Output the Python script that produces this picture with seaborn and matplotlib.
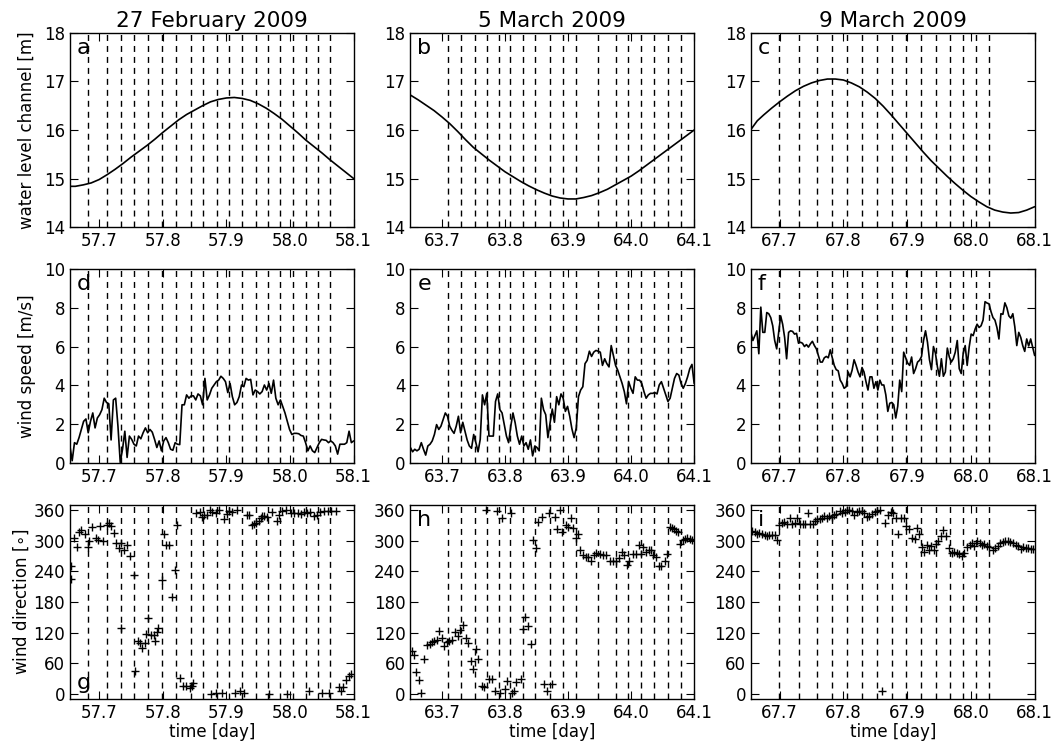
import numpy as np
import pandas as pd
import matplotlib
matplotlib.use("Agg")
import matplotlib.pyplot as plt
import seaborn as sns

# ---------------- data ----------------
titles = ["27 February 2009", "5 March 2009", "9 March 2009"]
xlims = [(57.654, 58.1), (63.65, 64.1), (67.655, 68.1)]
xticks = [[57.7, 57.8, 57.9, 58.0, 58.1],
          [63.7, 63.8, 63.9, 64.0, 64.1],
          [67.7, 67.8, 67.9, 68.0, 68.1]]
letters = ["a", "b", "c", "d", "e", "f", "g", "h", "i"]

# vertical dashed markers (times)
vlines_1 = [57.682, 57.712, 57.734, 57.755, 57.776, 57.798, 57.821, 57.845, 57.864,
            57.885, 57.904, 57.925, 57.946, 57.965, 57.985, 58.005, 58.025, 58.044, 58.063]
vlines_2 = [63.709, 63.731, 63.752, 63.771, 63.791, 63.808, 63.829, 63.848, 63.871,
            63.892, 63.913, 63.947, 63.976, 63.995, 64.016, 64.037, 64.058, 64.079]
vlines_3 = [67.699, 67.731, 67.758, 67.782, 67.806, 67.829, 67.853, 67.876, 67.899,
            67.922, 67.945, 67.967, 67.988, 68.008, 68.028]

# water level channel [m]
wl_t1 = [57.654, 57.6625, 57.675, 57.6875, 57.70, 57.7125, 57.725, 57.7375, 57.75, 57.7625,
         57.775, 57.7875, 57.80, 57.8125, 57.825, 57.8375, 57.85, 57.8625, 57.875, 57.8875,
         57.90, 57.9125, 57.925, 57.9375, 57.95, 57.9625, 57.975, 57.9875, 58.00, 58.0125,
         58.025, 58.0375, 58.05, 58.0625, 58.075, 58.0875, 58.10]
wl_1 = [14.84, 14.84, 14.87, 14.91, 14.98, 15.08, 15.19, 15.31, 15.44, 15.56,
        15.68, 15.81, 15.95, 16.08, 16.21, 16.32, 16.41, 16.50, 16.58, 16.63,
        16.66, 16.67, 16.65, 16.61, 16.54, 16.45, 16.34, 16.22, 16.08, 15.94,
        15.79, 15.66, 15.53, 15.39, 15.26, 15.13, 15.00]
wl_t2 = [63.65, 63.6625, 63.675, 63.6875, 63.70, 63.7125, 63.725, 63.7375, 63.75, 63.7625,
         63.775, 63.7875, 63.80, 63.8125, 63.825, 63.8375, 63.85, 63.8625, 63.875, 63.8875,
         63.90, 63.9125, 63.925, 63.9375, 63.95, 63.9625, 63.975, 63.9875, 64.00, 64.0125,
         64.025, 64.0375, 64.05, 64.0625, 64.075, 64.0875, 64.10]
wl_2 = [16.72, 16.62, 16.51, 16.40, 16.27, 16.13, 15.97, 15.80, 15.64, 15.51,
        15.38, 15.26, 15.14, 15.04, 14.94, 14.85, 14.77, 14.70, 14.64, 14.60,
        14.58, 14.58, 14.61, 14.65, 14.71, 14.78, 14.87, 14.96, 15.05, 15.16,
        15.28, 15.40, 15.52, 15.64, 15.76, 15.88, 16.00]
wl_t3 = [67.655, 67.665, 67.675, 67.6875, 67.70, 67.7125, 67.725, 67.7375, 67.75, 67.7625,
         67.775, 67.7875, 67.80, 67.8125, 67.825, 67.8375, 67.85, 67.8625, 67.875, 67.8875,
         67.90, 67.9125, 67.925, 67.9375, 67.95, 67.9625, 67.975, 67.9875, 68.00, 68.0125,
         68.025, 68.0375, 68.05, 68.0625, 68.075, 68.0875, 68.10]
wl_3 = [16.01, 16.19, 16.31, 16.45, 16.58, 16.70, 16.81, 16.90, 16.97, 17.02,
        17.05, 17.05, 17.03, 16.97, 16.89, 16.78, 16.65, 16.49, 16.31, 16.12,
        15.93, 15.74, 15.55, 15.37, 15.21, 15.05, 14.90, 14.76, 14.63, 14.52,
        14.42, 14.35, 14.31, 14.29, 14.30, 14.35, 14.42]

# wind speed [m/s], regularly sampled between the panel limits
ws_1 = [0.88, 0.12, 1.05, 0.97, 1.31, 1.73, 2.15, 2.27, 1.56, 2.15, 2.58, 1.81, 2.32, 2.49,
        2.75, 3.34, 3.12, 3.05, 1.19, 3.25, 3.34, 1.90, 0.03, 0.71, 1.64, 0.29, 1.39, 1.22,
        0.97, 0.88, 1.39, 1.25, 1.56, 1.81, 1.56, 1.73, 1.59, 1.22, 0.80, 1.14, 0.63, 1.14,
        1.31, 1.05, 0.71, 0.66, 1.05, 0.97, 0.95, 3.00, 3.00, 3.51, 3.34, 3.46, 3.46, 3.25,
        3.56, 3.46, 3.00, 4.36, 3.25, 3.51, 3.85, 4.02, 4.19, 4.27, 4.47, 4.36, 4.19, 3.63,
        4.10, 3.42, 3.00, 3.12, 3.42, 4.02, 3.93, 4.36, 4.27, 4.31, 3.51, 3.76, 3.68, 3.56,
        3.68, 4.02, 3.76, 4.10, 3.59, 4.27, 3.34, 3.00, 3.25, 2.92, 2.58, 2.15, 1.73, 1.47,
        1.53, 1.53, 1.51, 1.42, 1.39, 1.05, 0.63, 0.88, 0.63, 0.54, 0.80, 1.05, 1.22, 1.19,
        1.17, 1.05, 1.14, 1.05, 0.88, 0.46, 0.97, 0.97, 0.97, 1.05, 1.64, 1.05, 1.14]
ws_2 = [0.80, 0.58, 0.71, 0.63, 0.71, 1.05, 0.71, 0.41, 0.88, 0.97, 1.14, 1.47, 1.98, 1.73,
        1.90, 2.24, 2.58, 2.41, 1.90, 1.69, 1.53, 1.90, 2.41, 1.56, 2.10, 1.64, 1.19, 0.88,
        0.76, 1.47, 1.05, 0.58, 1.22, 3.51, 3.00, 3.59, 1.39, 1.39, 1.39, 3.17, 3.56, 2.75,
        2.58, 1.98, 1.39, 1.05, 1.90, 2.58, 2.07, 1.39, 0.97, 1.39, 0.88, 1.05, 0.71, 1.19,
        0.37, 0.88, 0.80, 0.63, 3.34, 2.75, 2.49, 1.31, 2.07, 2.78, 2.10, 3.42, 3.00, 3.56,
        3.34, 2.66, 2.92, 2.41, 1.76, 1.31, 1.81, 3.42, 3.76, 3.93, 5.12, 5.29, 5.76, 5.49,
        5.71, 5.80, 5.76, 5.71, 5.03, 5.37, 5.12, 4.95, 6.05, 5.54, 5.03, 4.78, 4.44, 4.10,
        3.68, 3.05, 4.19, 3.85, 3.59, 4.44, 4.27, 4.27, 4.10, 3.68, 3.34, 3.51, 3.59, 3.59,
        3.63, 3.56, 4.02, 4.19, 3.85, 3.51, 3.17, 3.34, 3.85, 4.36, 4.61, 4.53, 4.10, 3.85,
        4.10, 4.44, 4.86, 5.08, 4.10]
ws_3 = [6.73, 6.31, 6.56, 6.81, 5.63, 8.03, 6.73, 6.73, 7.75, 7.69, 7.49, 7.07, 6.31, 5.88,
        6.73, 7.58, 7.15, 6.47, 5.37, 6.73, 6.81, 6.78, 6.64, 6.68, 6.17, 6.22, 6.17, 6.00,
        6.10, 5.97, 6.14, 6.27, 6.05, 5.88, 5.54, 5.20, 5.20, 5.42, 5.49, 5.42, 5.83, 5.42,
        5.03, 4.81, 4.75, 4.27, 4.10, 3.85, 3.93, 4.69, 4.44, 4.78, 5.32, 5.03, 4.69, 4.44,
        4.92, 4.69, 4.19, 3.76, 4.44, 4.44, 3.85, 4.19, 3.76, 4.27, 4.02, 4.02, 3.51, 2.66,
        3.08, 3.12, 3.00, 2.32, 2.92, 4.27, 3.68, 5.71, 5.42, 5.15, 5.03, 5.46, 4.61, 4.86,
        5.20, 5.29, 5.49, 6.31, 6.81, 6.22, 5.32, 4.81, 6.00, 5.66, 4.95, 4.47, 5.37, 4.47,
        4.69, 5.92, 5.46, 5.20, 5.37, 5.71, 6.31, 4.86, 4.61, 5.66, 6.05, 5.03, 5.97, 6.64,
        6.56, 6.90, 7.15, 6.98, 7.07, 7.36, 8.31, 8.24, 8.20, 7.80, 7.49, 7.36, 6.98, 6.39,
        7.69, 7.66, 8.25, 8.00, 7.58, 7.46, 7.69, 7.02, 6.05, 6.73, 6.47, 6.05, 5.75, 6.39,
        6.03, 6.39, 5.97, 5.54]

# wind direction [deg]
wd_t1 = [57.656, 57.655, 57.660, 57.665, 57.668, 57.672, 57.677, 57.682, 57.684, 57.689,
         57.695, 57.698, 57.702, 57.706, 57.713, 57.716, 57.719, 57.723, 57.727, 57.731,
         57.735, 57.739, 57.744, 57.748, 57.754, 57.735, 57.756, 57.761, 57.764, 57.768,
         57.772, 57.776, 57.774, 57.781, 57.786, 57.788, 57.791, 57.793, 57.798, 57.802,
         57.805, 57.809, 57.814, 57.819, 57.822, 57.827, 57.832, 57.837, 57.842, 57.846,
         57.848, 57.853, 57.858, 57.862, 57.865, 57.869, 57.874, 57.877, 57.883, 57.888,
         57.896, 57.901, 57.904, 57.909, 57.917, 57.876, 57.884, 57.893, 57.914, 57.922,
         57.927, 57.932, 57.935, 57.941, 57.943, 57.946, 57.951, 57.954, 57.956, 57.959,
         57.964, 57.971, 57.979, 57.983, 57.988, 57.993, 58.001, 58.006, 58.012, 58.017,
         58.022, 58.027, 58.032, 58.038, 58.043, 58.047, 58.054, 58.059, 58.064, 58.072,
         57.967, 57.996, 58.030, 58.051, 58.062, 58.077, 58.080, 58.084, 58.088, 58.092,
         58.096]
wd_1 = [250, 224, 306, 288, 316, 321, 312, 288, 299, 327,
        306, 301, 329, 299, 331, 335, 329, 314, 295, 286,
        295, 282, 292, 269, 232, 129, 45, 103, 99, 90,
        100, 148, 118, 116, 116, 103, 121, 129, 223, 313,
        292, 292, 190, 242, 330, 32, 16, 15, 11, 15,
        21, 353, 355, 346, 350, 350, 359, 355, 353, 359,
        342, 352, 358, 355, 359, 0, 2, 2, 2, 6,
        2, 350, 350, 331, 332, 335, 339, 345, 348, 348,
        346, 355, 339, 350, 358, 359, 353, 353, 353, 352,
        355, 353, 355, 348, 350, 355, 357, 357, 358, 358,
        0, 0, 6, 2, 2, 13, 6, 13, 28, 35,
        39]
wd_t2 = [63.653, 63.655, 63.659, 63.663, 63.667, 63.671, 63.676, 63.681, 63.684, 63.688,
         63.692, 63.696, 63.700, 63.704, 63.708, 63.712, 63.716, 63.720, 63.725, 63.729,
         63.733, 63.738, 63.742, 63.746, 63.750, 63.754, 63.758, 63.763, 63.767, 63.770,
         63.775, 63.779, 63.784, 63.787, 63.792, 63.796, 63.800, 63.804, 63.809, 63.811,
         63.814, 63.818, 63.825, 63.828, 63.832, 63.837, 63.842, 63.845, 63.849, 63.853,
         63.858, 63.862, 63.866, 63.870, 63.874, 63.879, 63.883, 63.887, 63.891, 63.896,
         63.900, 63.904, 63.908, 63.912, 63.916, 63.919, 63.924, 63.928, 63.932, 63.937,
         63.941, 63.945, 63.950, 63.955, 63.961, 63.967, 63.972, 63.976, 63.981, 63.986,
         63.989, 63.993, 63.997, 64.003, 64.008, 64.012, 64.016, 64.019, 64.024, 64.028,
         64.032, 64.035, 64.039, 64.044, 64.048, 64.053, 64.057, 64.061, 64.065, 64.068,
         64.072, 64.075, 64.077, 64.082, 64.086, 64.089, 64.093, 64.096]
wd_2 = [84, 76, 43, 28, 2, 68, 95, 97, 101, 103,
        105, 123, 110, 94, 101, 103, 105, 121, 114, 126,
        134, 110, 100, 65, 48, 87, 68, 16, 13, 359,
        30, 30, 6, 357, 2, 344, 10, 26, 353, 2,
        6, 23, 29, 127, 150, 132, 97, 301, 286, 337,
        346, 19, 6, 353, 19, 346, 323, 359, 316, 331,
        327, 344, 325, 306, 312, 282, 271, 268, 268, 261,
        271, 275, 273, 271, 271, 261, 261, 260, 265, 277,
        271, 252, 260, 274, 274, 292, 274, 288, 277, 281,
        281, 271, 268, 250, 250, 261, 273, 327, 325, 323,
        319, 316, 294, 301, 303, 305, 303, 301]
wd_t3 = [67.657, 67.661, 67.665, 67.668, 67.673, 67.677, 67.681, 67.684, 67.688, 67.693,
         67.696, 67.699, 67.703, 67.707, 67.711, 67.716, 67.720, 67.724, 67.728, 67.732,
         67.736, 67.740, 67.744, 67.747, 67.752, 67.756, 67.759, 67.763, 67.766, 67.770,
         67.774, 67.778, 67.782, 67.786, 67.789, 67.794, 67.798, 67.802, 67.805, 67.809,
         67.814, 67.817, 67.821, 67.825, 67.829, 67.833, 67.837, 67.841, 67.845, 67.849,
         67.853, 67.857, 67.861, 67.865, 67.870, 67.874, 67.878, 67.882, 67.886, 67.891,
         67.895, 67.899, 67.903, 67.907, 67.912, 67.916, 67.919, 67.923, 67.926, 67.931,
         67.935, 67.938, 67.942, 67.945, 67.949, 67.953, 67.957, 67.961, 67.966, 67.970,
         67.974, 67.978, 67.982, 67.986, 67.989, 67.994, 67.998, 68.002, 68.005, 68.009,
         68.014, 68.017, 68.021, 68.025, 68.029, 68.034, 68.038, 68.042, 68.046, 68.051,
         68.054, 68.058, 68.062, 68.066, 68.070, 68.074, 68.078, 68.082, 68.086, 68.089,
         68.094, 68.098]
wd_3 = [319, 316, 313, 314, 312, 310, 308, 310, 310, 310,
        301, 331, 335, 337, 333, 345, 332, 335, 345, 332,
        333, 332, 353, 332, 332, 339, 342, 342, 345, 348,
        344, 348, 346, 350, 352, 357, 353, 355, 359, 359,
        357, 350, 355, 358, 357, 353, 346, 348, 352, 355,
        357, 359, 6, 335, 350, 355, 353, 344, 312, 344,
        345, 329, 323, 306, 303, 325, 312, 288, 277, 292,
        281, 290, 281, 294, 300, 308, 321, 308, 286, 275,
        277, 275, 273, 269, 275, 288, 292, 295, 290, 299,
        295, 292, 294, 290, 287, 281, 286, 290, 295, 297,
        300, 299, 297, 295, 292, 290, 284, 287, 286, 286,
        284, 284]

# ---------------- style ----------------
sns.set_style("ticks")
plt.rcParams.update({
    "font.family": ["DejaVu Sans"],
    "text.color": "black", "axes.labelcolor": "black",
    "xtick.direction": "in", "ytick.direction": "in",
    "xtick.top": True, "ytick.right": True,
    "xtick.major.size": 5.5, "ytick.major.size": 5.5,
    "xtick.major.width": 0.8, "ytick.major.width": 0.8,
    "xtick.labelsize": 12, "ytick.labelsize": 12,
    "axes.edgecolor": "black", "axes.linewidth": 1.0,
    "xtick.color": "black", "ytick.color": "black",
})

fig, axes = plt.subplots(3, 3, figsize=(10.59, 7.48), dpi=100)
fig.subplots_adjust(left=0.066, right=0.977, top=0.956, bottom=0.0655,
                    wspace=0.2, hspace=0.215)

vlines = [vlines_1, vlines_2, vlines_3]
wl_t = [wl_t1, wl_t2, wl_t3]
wl = [wl_1, wl_2, wl_3]
ws = [ws_1, ws_2, ws_3]
wd_t = [wd_t1, wd_t2, wd_t3]
wd = [wd_1, wd_2, wd_3]

for c in range(3):
    x0, x1 = xlims[c]
    # row 1: water level
    ax = axes[0, c]
    df = pd.DataFrame({"t": wl_t[c], "v": wl[c]})
    sns.lineplot(data=df, x="t", y="v", ax=ax, color="black", lw=1.2)
    ax.set_ylim(14, 18)
    ax.set_yticks([14, 15, 16, 17, 18])
    ax.set_title(titles[c], fontsize=15.5, pad=4, color="black")
    # row 2: wind speed
    ax = axes[1, c]
    df = pd.DataFrame({"t": np.linspace(x0, x1, len(ws[c])), "v": ws[c]})
    sns.lineplot(data=df, x="t", y="v", ax=ax, color="black", lw=1.2)
    ax.set_ylim(0, 10)
    ax.set_yticks([0, 2, 4, 6, 8, 10])
    # row 3: wind direction
    ax = axes[2, c]
    df = pd.DataFrame({"t": wd_t[c], "v": wd[c]})
    sns.scatterplot(data=df, x="t", y="v", ax=ax, marker="+", color="black",
                    s=32, linewidth=1.0)
    ax.set_ylim(-10, 370)
    ax.set_yticks([0, 60, 120, 180, 240, 300, 360])

    for r in range(3):
        ax = axes[r, c]
        for xv in vlines[c]:
            ax.axvline(xv, color="black", lw=1.0, linestyle=(0, (4.3, 3.6)), zorder=1)
        ax.set_xlim(x0, x1)
        ax.set_xticks(xticks[c])
        ax.set_xticklabels([f"{v:.1f}" for v in xticks[c]])
        ax.set_xlabel("")
        ax.set_ylabel("")
        for s in ax.spines.values():
            s.set_visible(True)
            s.set_color("black")
        letter = letters[r * 3 + c]
        if letter == "g":
            ax.text(0.025, 0.03, letter, transform=ax.transAxes, fontsize=16,
                    ha="left", va="bottom")
        else:
            ax.text(0.025, 0.975, letter, transform=ax.transAxes, fontsize=16,
                    ha="left", va="top")
    axes[2, c].set_xlabel("time [day]", fontsize=12, labelpad=1)

axes[0, 0].set_ylabel("water level channel [m]", fontsize=12, labelpad=6)
axes[1, 0].set_ylabel("wind speed [m/s]", fontsize=12, labelpad=6)
axes[2, 0].set_ylabel(r"wind direction [$\circ$]", fontsize=12, labelpad=2)

fig.savefig("out.png", dpi=100)
